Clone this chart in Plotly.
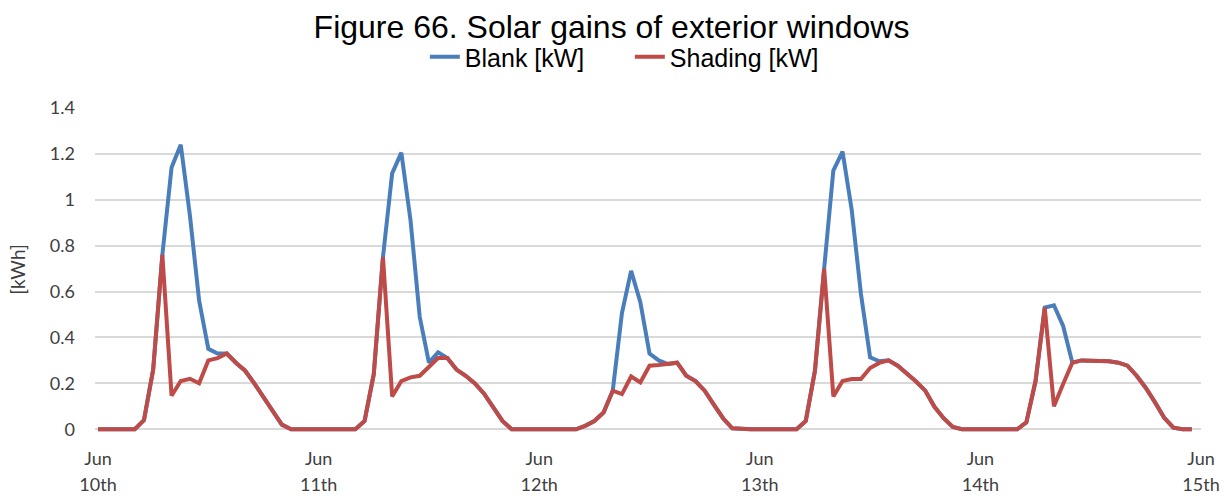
import plotly.graph_objects as go

# Hourly solar gains through the exterior windows, Jun 10th 00:00 .. Jun 14th 23:00
month = "Jun"
day_labels = ["10th", "11th", "12th", "13th", "14th", "15th"]
hours_per_day = 24

blank_kw = [
    # Jun 10th
    0, 0, 0, 0, 0, 0.04, 0.26, 0.76, 1.14, 1.24, 0.93, 0.56,
    0.35, 0.33, 0.33, 0.29, 0.255, 0.20, 0.14, 0.08, 0.02, 0, 0, 0,
    # Jun 11th
    0, 0, 0, 0, 0, 0.036, 0.24, 0.75, 1.115, 1.205, 0.91, 0.49,
    0.29, 0.335, 0.31, 0.26, 0.233, 0.20, 0.155, 0.095, 0.036, 0, 0, 0,
    # Jun 12th
    0, 0, 0, 0, 0, 0.015, 0.036, 0.073, 0.168, 0.506, 0.69, 0.554,
    0.33, 0.30, 0.284, 0.29, 0.233, 0.21, 0.168, 0.106, 0.048, 0.004, 0, 0,
    # Jun 13th
    0, 0, 0, 0, 0, 0.036, 0.255, 0.70, 1.127, 1.21, 0.955, 0.59,
    0.313, 0.296, 0.30, 0.277, 0.243, 0.208, 0.168, 0.098, 0.048, 0.01, 0, 0,
    # Jun 14th
    0, 0, 0, 0, 0, 0.03, 0.21, 0.53, 0.54, 0.45, 0.29, 0.30,
    0.30, 0.30, 0.296, 0.29, 0.277, 0.233, 0.18, 0.117, 0.05, 0.007, 0, 0,
]

shading_kw = [
    # Jun 10th
    0, 0, 0, 0, 0, 0.04, 0.26, 0.76, 0.146, 0.21, 0.22, 0.20,
    0.30, 0.31, 0.33, 0.29, 0.255, 0.20, 0.14, 0.08, 0.02, 0, 0, 0,
    # Jun 11th
    0, 0, 0, 0, 0, 0.036, 0.24, 0.75, 0.143, 0.21, 0.226, 0.233,
    0.27, 0.31, 0.31, 0.26, 0.233, 0.20, 0.155, 0.095, 0.036, 0, 0, 0,
    # Jun 12th
    0, 0, 0, 0, 0, 0.015, 0.036, 0.073, 0.168, 0.153, 0.23, 0.204,
    0.277, 0.28, 0.284, 0.29, 0.233, 0.21, 0.168, 0.106, 0.048, 0.004, 0, 0,
    # Jun 13th
    0, 0, 0, 0, 0, 0.036, 0.255, 0.70, 0.143, 0.21, 0.219, 0.219,
    0.267, 0.289, 0.30, 0.277, 0.243, 0.208, 0.168, 0.098, 0.048, 0.01, 0, 0,
    # Jun 14th
    0, 0, 0, 0, 0, 0.03, 0.21, 0.53, 0.10, 0.197, 0.29, 0.30,
    0.30, 0.30, 0.296, 0.29, 0.277, 0.233, 0.18, 0.117, 0.05, 0.007, 0, 0,
]

y_ticks = [0, 0.2, 0.4, 0.6, 0.8, 1.0, 1.2, 1.4]
y_tick_text = ["0", "0.2", "0.4", "0.6", "0.8", "1", "1.2", "1.4"]

hours = list(range(len(blank_kw)))
day_ticks = [i * hours_per_day for i in range(len(day_labels))]

BLUE = "#4A7EBB"
RED = "#BE4B48"
GRID = "#D9D9D9"
TICK_FONT = dict(family="Lato", size=18, color="#404040")
X_RANGE = [-0.33, 120]

fig = go.Figure()
fig.add_trace(go.Scatter(
    x=hours, y=blank_kw, mode="lines", name="Blank [kW]",
    line=dict(color=BLUE, width=4),
))
# shading series lives on the overlaid axis that carries the day numbers
fig.add_trace(go.Scatter(
    x=hours, y=shading_kw, mode="lines", name="Shading [kW]",
    line=dict(color=RED, width=4), xaxis="x2",
))

fig.update_layout(
    width=1223, height=498,
    margin=dict(l=95, r=22, t=107, b=66, autoexpand=False),
    paper_bgcolor="white", plot_bgcolor="white",
    title=dict(
        text="Figure 66. Solar gains of exterior windows",
        font=dict(family="Liberation Sans", size=32, color="black"),
        x=0.5, xref="container", xanchor="center",
        y=1 - 27 / 498, yref="container", yanchor="middle",
    ),
    legend=dict(
        orientation="h",
        x=0.515, xref="container", xanchor="center",
        y=1 - 57 / 498, yref="container", yanchor="middle",
        font=dict(family="Liberation Sans", size=25, color="black"),
        bgcolor="rgba(0,0,0,0)", itemwidth=30,
        entrywidth=160, entrywidthmode="pixels",
    ),
    xaxis=dict(
        range=X_RANGE, tickvals=day_ticks, ticktext=[month] * len(day_ticks),
        showgrid=False, zeroline=False, showline=False, ticks="",
        tickfont=TICK_FONT, ticklabelstandoff=14, automargin=False,
    ),
    xaxis2=dict(
        range=X_RANGE, overlaying="x", anchor="y", side="bottom",
        tickvals=day_ticks, ticktext=day_labels,
        showgrid=False, zeroline=False, showline=False, ticks="",
        tickfont=TICK_FONT, ticklabelstandoff=40, automargin=False,
    ),
    yaxis=dict(
        range=[-0.012, 1.404], tickvals=y_ticks, ticktext=y_tick_text,
        showgrid=True, gridcolor=GRID, gridwidth=1.5,
        zeroline=True, zerolinecolor=GRID, zerolinewidth=1.5,
        showline=False, ticks="", tickfont=TICK_FONT,
        ticklabelstandoff=19, automargin=False,
        title=dict(text="[kWh]", font=dict(family="Lato", size=19, color="#404040"), standoff=19),
    ),
    showlegend=True,
)

fig.write_html("out.html")
